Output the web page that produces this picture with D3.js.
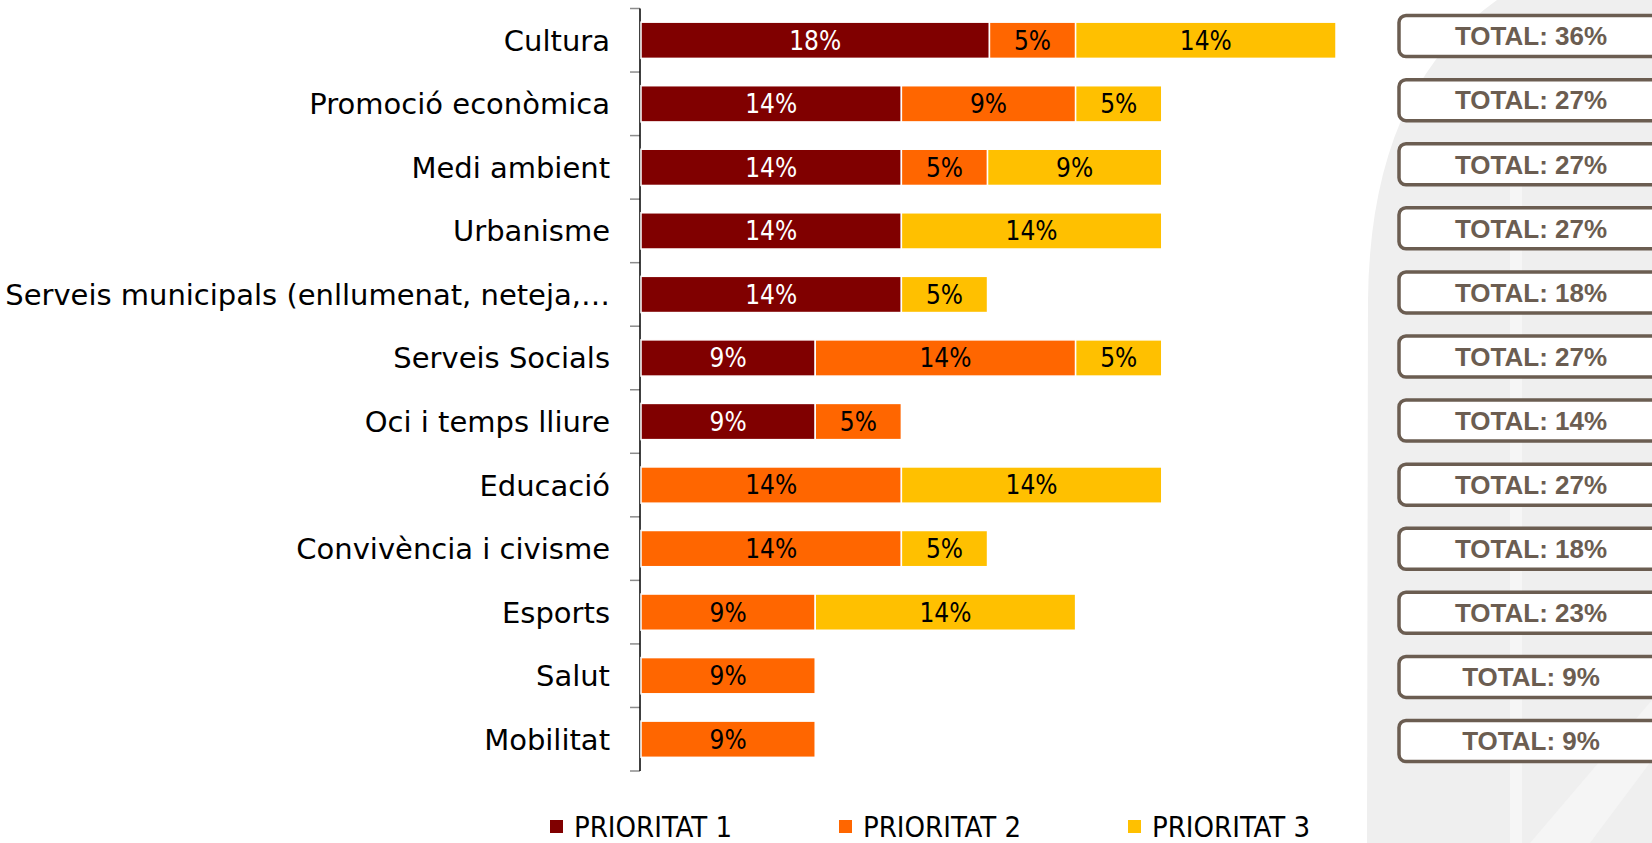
<!DOCTYPE html>
<html>
<head>
<meta charset="utf-8">
<title>Prioritats</title>
<script src="https://cdn.jsdelivr.net/npm/d3@7"></script>
<style>
  body { margin:0; background:#fff; }
  .cat { font-family: "DejaVu Sans", sans-serif; font-size:29px; fill:#000; }
  .val { font-family: "Liberation Sans Narrow", "DejaVu Sans Condensed", "Roboto", sans-serif; font-size:26px; }
  .tot { font-family: "Liberation Sans", Arial, sans-serif; font-weight:bold; font-size:26px; fill:#6b5d51; }
  .leg { font-family: "Liberation Sans Narrow", "DejaVu Sans Condensed", "Roboto", sans-serif; font-size:29px; fill:#000; }
</style>
</head>
<body>
<svg id="chart" width="1652" height="843"></svg>
<script>
// categories top to bottom
var categories = ["Cultura","Promoció econòmica","Medi ambient","Urbanisme",
  "Serveis municipals (enllumenat, neteja,…","Serveis Socials","Oci i temps lliure",
  "Educació","Convivència i civisme","Esports","Salut","Mobilitat"]
// percentages per priority
var prioritat1 = [18.2,13.6,13.6,13.6,13.6,9.1,9.1,0,0,0,0,0]
var prioritat2 = [4.5,9.1,4.5,0,0,13.6,4.5,13.6,13.6,9.1,9.1,9.1]
var prioritat3 = [13.6,4.5,9.1,13.6,4.5,4.5,0,13.6,4.5,13.6,0,0]
var seriesNames = ["PRIORITAT 1","PRIORITAT 2","PRIORITAT 3"]
var colors = ["#800000","#ff6600","#ffc000"]
var labelColors = ["#ffffff","#000000","#000000"]

var svg = d3.select("#chart")

// faint watermark on the right
svg.append("path")
  .attr("d","M1497,0 L1652,0 L1652,843 L1367,843 L1368,300 Q1370,90 1497,0 Z")
  .attr("fill","#efefef")
svg.append("rect").attr("x",1510).attr("y",185).attr("width",12).attr("height",658).attr("fill","#f6f6f6")
svg.append("path")
  .attr("d","M1530,843 L1652,700 L1652,760 L1590,843 Z").attr("fill","#f5f5f5")

var rows = categories.map(function(c,i){
  return {cat:c, vals:[prioritat1[i],prioritat2[i],prioritat3[i]]}
})
var totals = rows.map(function(r){ return d3.sum(r.vals) })

var x = d3.scaleLinear().domain([0, d3.max(totals)]).range([641, 1336])
var y = d3.scaleBand().domain(categories).range([8.5, 771]).paddingInner(0.43).paddingOuter(0.215)
var yBox = d3.scaleBand().domain(categories).range([4, 773])

// axis line + ticks at band boundaries
var bounds = d3.range(categories.length+1).map(function(i){ return 8.5 + i*y.step() })
svg.selectAll(".tick").data(bounds).enter().append("line")
  .attr("x1",630).attr("x2",640).attr("y1",function(d){return d}).attr("y2",function(d){return d})
  .attr("stroke","#8c8c8c").attr("stroke-width",1.5)
svg.append("line").attr("x1",640).attr("x2",640).attr("y1",8.5).attr("y2",771)
  .attr("stroke","#000").attr("stroke-width",1.5)

// category labels
svg.selectAll(".cat").data(categories).enter().append("text")
  .attr("class","cat")
  .attr("x",610).attr("y",function(d){ return y(d)+y.bandwidth()/2 })
  .attr("dy","0.36em").attr("text-anchor","end")
  .text(function(d){return d})

// stacked segments
var segs = []
rows.forEach(function(r){
  var acc = 0
  r.vals.forEach(function(v,k){
    if (v>0) segs.push({cat:r.cat, k:k, x0:acc, x1:acc+v, v:v})
    acc += v
  })
})
var g = svg.append("g")
g.selectAll("rect").data(segs).enter().append("rect")
  .attr("x",function(d){return x(d.x0)})
  .attr("y",function(d){return y(d.cat)})
  .attr("width",function(d){return x(d.x1)-x(d.x0)})
  .attr("height",y.bandwidth())
  .attr("fill",function(d){return colors[d.k]})
  .attr("stroke","#fff").attr("stroke-width",1.5)
g.selectAll("text").data(segs).enter().append("text")
  .attr("class","val")
  .attr("x",function(d){return (x(d.x0)+x(d.x1))/2})
  .attr("y",function(d){return y(d.cat)+y.bandwidth()/2})
  .attr("dy","0.36em").attr("text-anchor","middle")
  .attr("fill",function(d){return labelColors[d.k]})
  .text(function(d){return Math.round(d.v)+"%"})

// total boxes
var tb = svg.append("g")
tb.selectAll("rect").data(categories).enter().append("rect")
  .attr("x",1399).attr("y",function(d){return yBox(d)+yBox.bandwidth()/2-20.5})
  .attr("width",300).attr("height",41).attr("rx",7)
  .attr("fill","#fff").attr("stroke","#6b5d51").attr("stroke-width",3.5)
tb.selectAll("text").data(categories).enter().append("text")
  .attr("class","tot")
  .attr("x",1531).attr("y",function(d){return yBox(d)+yBox.bandwidth()/2})
  .attr("dy","0.36em").attr("text-anchor","middle")
  .text(function(d,i){return "TOTAL: "+Math.round(totals[i])+"%"})

// legend
var lg = svg.selectAll(".lg").data(seriesNames).enter().append("g")
  .attr("transform",function(d,i){return "translate("+(550+i*289)+",827)"})
lg.append("rect").attr("x",0).attr("y",-7).attr("width",13).attr("height",13)
  .attr("fill",function(d,i){return colors[i]})
lg.append("text").attr("class","leg").attr("x",24).attr("dy","0.36em").text(function(d){return d})
</script>
</body>
</html>
